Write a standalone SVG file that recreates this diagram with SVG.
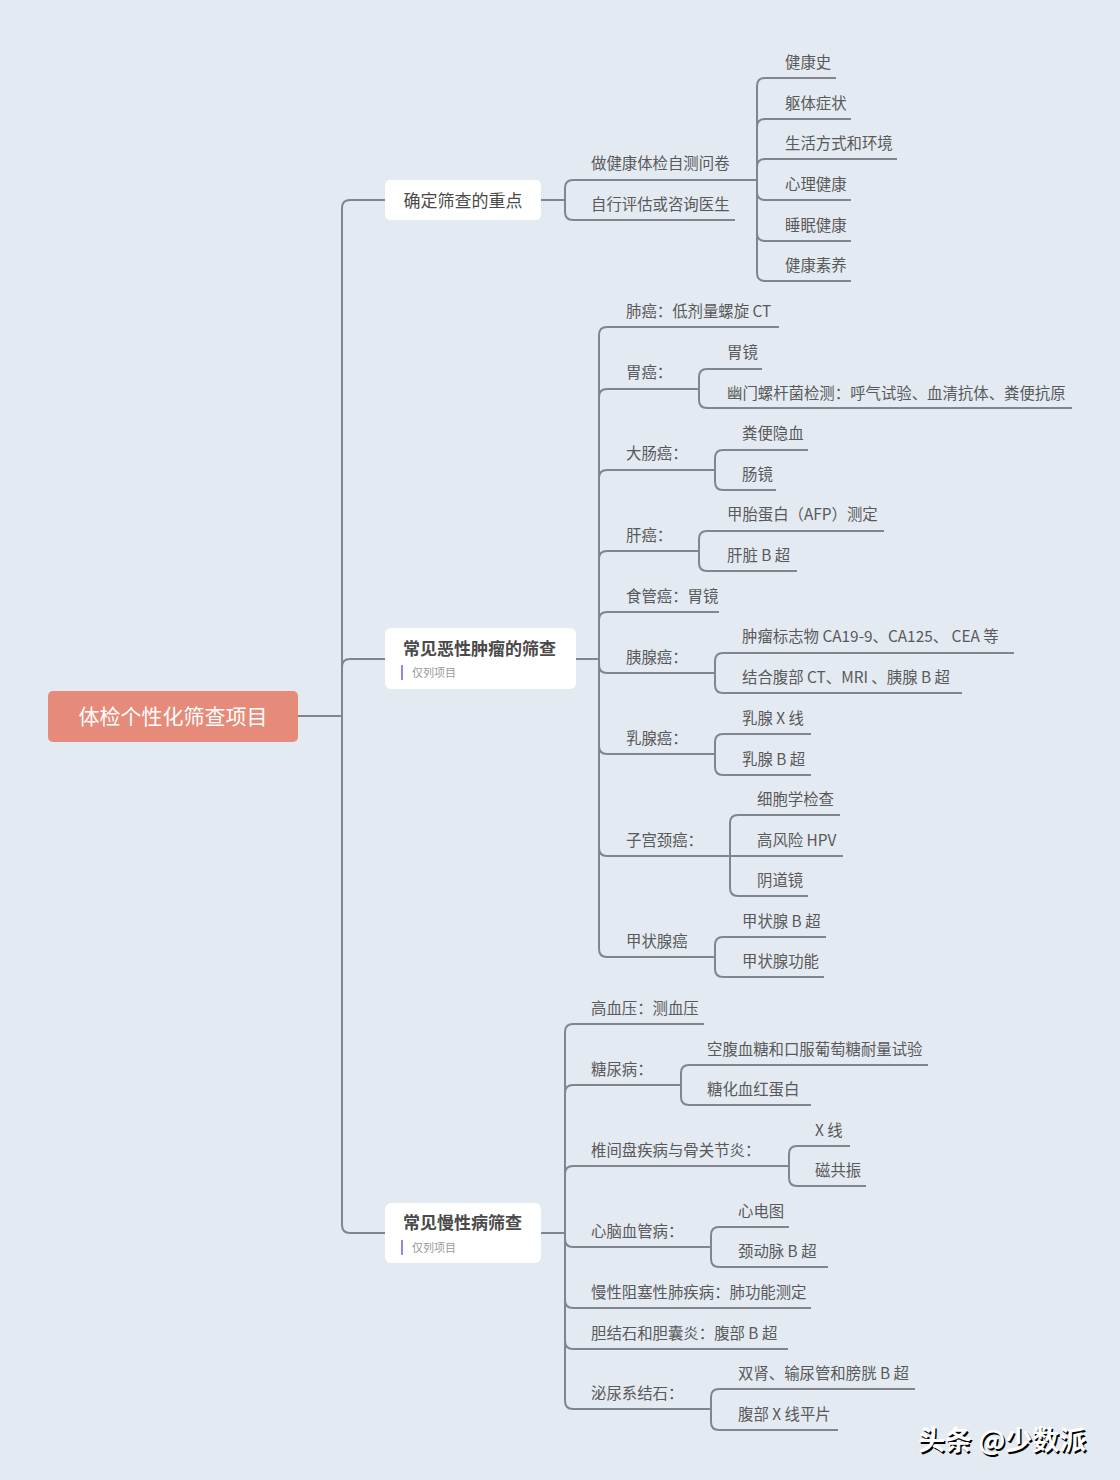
<svg xmlns="http://www.w3.org/2000/svg" width="1120" height="1480" viewBox="0 0 1120 1480">
<style>
.bg{fill:#e4eaf2}
.ln{fill:none;stroke:#80858e;stroke-width:2}
.t{font-family:"Noto Sans CJK SC","Noto Sans",sans-serif;font-size:15.4px;fill:#595959;dominant-baseline:central}
.box{fill:#ffffff}
.bt{font-family:"Noto Sans CJK SC","Noto Sans",sans-serif;font-size:17px;fill:#4a4a4a;dominant-baseline:central}
.bb{font-weight:bold}
.tag{font-family:"Noto Sans CJK SC","Noto Sans",sans-serif;font-size:11px;fill:#9a9a9a;dominant-baseline:central}
.bar{fill:#8f86ee}
.wm{font-family:"Noto Sans CJK SC",sans-serif;font-size:27px;font-weight:bold}
</style>
<rect class="bg" x="0" y="0" width="1120" height="1480"/>

<g id="connectors">
<path class="ln" d="M298 716 H342"/>
<path class="ln" d="M342 716 V208 Q342 200 350 200 H385"/>
<path class="ln" d="M342 716 V667 Q342 659 350 659 H385"/>
<path class="ln" d="M342 716 V1225 Q342 1233 350 1233 H385"/>
<path class="ln" d="M541 200 H565"/>
<path class="ln" d="M565 200 V188 Q565 180 573 180 H757"/>
<path class="ln" d="M565 200 V212 Q565 220 573 220 H735"/>
<path class="ln" d="M757 180 V86 Q757 78 765 78 H836"/>
<path class="ln" d="M757 180 V127 Q757 119 765 119 H851"/>
<path class="ln" d="M757 180 V167 Q757 159 765 159 H897"/>
<path class="ln" d="M757 180 V192 Q757 200 765 200 H851"/>
<path class="ln" d="M757 180 V233 Q757 241 765 241 H851"/>
<path class="ln" d="M757 180 V273 Q757 281 765 281 H851"/>
<path class="ln" d="M576 659 H599"/>
<path class="ln" d="M599 659 V335 Q599 327 607 327 H779"/>
<path class="ln" d="M599 659 V397 Q599 389 607 389 H699"/>
<path class="ln" d="M699 389 V377 Q699 369 707 369 H762"/>
<path class="ln" d="M699 389 V400 Q699 408 707 408 H1072"/>
<path class="ln" d="M599 659 V478 Q599 470 607 470 H715"/>
<path class="ln" d="M715 470 V458 Q715 450 723 450 H808"/>
<path class="ln" d="M715 470 V482 Q715 490 723 490 H776"/>
<path class="ln" d="M599 659 V559 Q599 551 607 551 H699"/>
<path class="ln" d="M699 551 V539 Q699 531 707 531 H884"/>
<path class="ln" d="M699 551 V563 Q699 571 707 571 H797"/>
<path class="ln" d="M599 659 V620 Q599 612 607 612 H719"/>
<path class="ln" d="M599 659 V665 Q599 673 607 673 H715"/>
<path class="ln" d="M715 673 V661 Q715 653 723 653 H1014"/>
<path class="ln" d="M715 673 V685 Q715 693 723 693 H962"/>
<path class="ln" d="M599 659 V746 Q599 754 607 754 H715"/>
<path class="ln" d="M715 754 V742 Q715 734 723 734 H811"/>
<path class="ln" d="M715 754 V767 Q715 775 723 775 H811"/>
<path class="ln" d="M599 659 V848 Q599 856 607 856 H730"/>
<path class="ln" d="M730 856 V823 Q730 815 738 815 H840"/>
<path class="ln" d="M730 856 H843"/>
<path class="ln" d="M730 856 V888 Q730 896 738 896 H808"/>
<path class="ln" d="M599 659 V949 Q599 957 607 957 H715"/>
<path class="ln" d="M715 957 V945 Q715 937 723 937 H826"/>
<path class="ln" d="M715 957 V969 Q715 977 723 977 H824"/>
<path class="ln" d="M541 1233 H565"/>
<path class="ln" d="M565 1233 V1032 Q565 1024 573 1024 H704"/>
<path class="ln" d="M565 1233 V1093 Q565 1085 573 1085 H681"/>
<path class="ln" d="M681 1085 V1073 Q681 1065 689 1065 H928"/>
<path class="ln" d="M681 1085 V1097 Q681 1105 689 1105 H811"/>
<path class="ln" d="M565 1233 V1174 Q565 1166 573 1166 H789"/>
<path class="ln" d="M789 1166 V1154 Q789 1146 797 1146 H850"/>
<path class="ln" d="M789 1166 V1178 Q789 1186 797 1186 H866"/>
<path class="ln" d="M565 1233 V1239 Q565 1247 573 1247 H711"/>
<path class="ln" d="M711 1247 V1235 Q711 1227 719 1227 H789"/>
<path class="ln" d="M711 1247 V1259 Q711 1267 719 1267 H828"/>
<path class="ln" d="M565 1233 V1300 Q565 1308 573 1308 H811"/>
<path class="ln" d="M565 1233 V1341 Q565 1349 573 1349 H788"/>
<path class="ln" d="M565 1233 V1401 Q565 1409 573 1409 H711"/>
<path class="ln" d="M711 1409 V1397 Q711 1389 719 1389 H915"/>
<path class="ln" d="M711 1409 V1422 Q711 1430 719 1430 H838"/>
</g>

<g id="root">
<rect x="48" y="691" width="250" height="51" rx="5" fill="#e68a79"/>
<text x="173" y="715" text-anchor="middle" font-family="Noto Sans CJK SC, sans-serif" font-size="21" fill="#ffffff" dominant-baseline="central">体检个性化筛查项目</text>
</g>

<g id="branch1">
<rect class="box" x="385" y="180" width="156" height="40" rx="5"/>
<text class="bt" x="463" y="199" text-anchor="middle">确定筛查的重点</text>
</g>
<g id="b1-children">
<text class="t" x="591" y="162">做健康体检自测问卷</text>
<text class="t" x="591" y="203">自行评估或咨询医生</text>
<text class="t" x="785" y="61">健康史</text>
<text class="t" x="785" y="102">躯体症状</text>
<text class="t" x="785" y="142">生活方式和环境</text>
<text class="t" x="785" y="183">心理健康</text>
<text class="t" x="785" y="224">睡眠健康</text>
<text class="t" x="785" y="264">健康素养</text>
</g>

<g id="branch2">
<rect class="box" x="385" y="628" width="191" height="61" rx="6"/>
<text class="bt bb" x="403" y="647">常见恶性肿瘤的筛查</text>
<rect class="bar" x="401" y="665" width="2" height="15"/>
<text class="tag" x="412" y="672">仅列项目</text>
</g>
<g id="b2-children">
<text class="t" x="626" y="310">肺癌：低剂量螺旋 CT</text>
<text class="t" x="626" y="371">胃癌：</text>
<text class="t" x="727" y="351">胃镜</text>
<text class="t" x="727" y="392">幽门螺杆菌检测：呼气试验、血清抗体、粪便抗原</text>
<text class="t" x="626" y="452">大肠癌：</text>
<text class="t" x="742" y="432">粪便隐血</text>
<text class="t" x="742" y="473">肠镜</text>
<text class="t" x="626" y="534">肝癌：</text>
<text class="t" x="727" y="513">甲胎蛋白（AFP）测定</text>
<text class="t" x="727" y="554">肝脏 B 超</text>
<text class="t" x="626" y="595">食管癌：胃镜</text>
<text class="t" x="626" y="656">胰腺癌：</text>
<text class="t" x="742" y="635">肿瘤标志物 CA19-9、CA125、 CEA 等</text>
<text class="t" x="742" y="676">结合腹部 CT、MRI 、胰腺 B 超</text>
<text class="t" x="626" y="737">乳腺癌：</text>
<text class="t" x="742" y="717">乳腺 X 线</text>
<text class="t" x="742" y="758">乳腺 B 超</text>
<text class="t" x="626" y="839">子宫颈癌：</text>
<text class="t" x="757" y="798">细胞学检查</text>
<text class="t" x="757" y="839">高风险 HPV</text>
<text class="t" x="757" y="879">阴道镜</text>
<text class="t" x="626" y="940">甲状腺癌</text>
<text class="t" x="742" y="920">甲状腺 B 超</text>
<text class="t" x="742" y="960">甲状腺功能</text>
</g>

<g id="branch3">
<rect class="box" x="385" y="1203" width="156" height="60" rx="6"/>
<text class="bt bb" x="403" y="1221">常见慢性病筛查</text>
<rect class="bar" x="401" y="1240" width="2" height="15"/>
<text class="tag" x="412" y="1247">仅列项目</text>
</g>
<g id="b3-children">
<text class="t" x="591" y="1007">高血压：测血压</text>
<text class="t" x="591" y="1068">糖尿病：</text>
<text class="t" x="707" y="1048">空腹血糖和口服葡萄糖耐量试验</text>
<text class="t" x="707" y="1088">糖化血红蛋白</text>
<text class="t" x="591" y="1149">椎间盘疾病与骨关节炎：</text>
<text class="t" x="815" y="1129">X 线</text>
<text class="t" x="815" y="1169">磁共振</text>
<text class="t" x="591" y="1230">心脑血管病：</text>
<text class="t" x="738" y="1210">心电图</text>
<text class="t" x="738" y="1250">颈动脉 B 超</text>
<text class="t" x="591" y="1291">慢性阻塞性肺疾病：肺功能测定</text>
<text class="t" x="591" y="1332">胆结石和胆囊炎：腹部 B 超</text>
<text class="t" x="591" y="1392">泌尿系结石：</text>
<text class="t" x="738" y="1372">双肾、输尿管和膀胱 B 超</text>
<text class="t" x="738" y="1413">腹部 X 线平片</text>
</g>

<g id="watermark">
<text class="wm" x="918" y="1450" fill="#000000" transform="translate(1.5,1.5)">头条 @少数派</text>
<text class="wm" x="918" y="1450" fill="#ffffff">头条 @少数派</text>
</g>
</svg>
